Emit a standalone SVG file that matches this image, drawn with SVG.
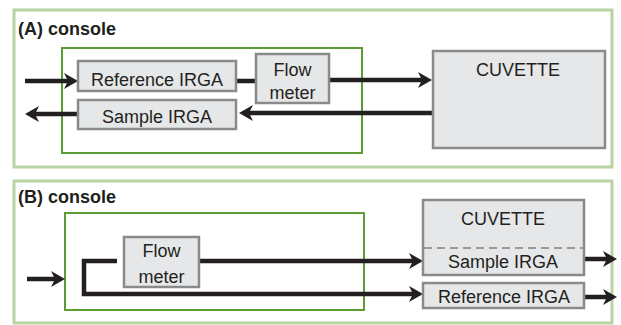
<svg xmlns="http://www.w3.org/2000/svg" width="621" height="325" viewBox="0 0 621 325">
<style>
.panel{fill:#fff;stroke:#b9d3a3;stroke-width:3}
.console{fill:none;stroke:#5c9d33;stroke-width:2}
.box{fill:#e6e7e8;stroke:#8a8a8a;stroke-width:2.5}
.t{font-family:"Liberation Sans",Arial,sans-serif;font-size:18px;fill:#231f20;text-anchor:middle}
.h{font-family:"Liberation Sans",Arial,sans-serif;font-size:18px;font-weight:bold;fill:#231f20}
.c{fill:none;stroke:#231f20;stroke-width:4.5}
.arr{marker-end:url(#ah)}
</style>
<defs>
<marker id="ah" viewBox="0 0 14 16" markerWidth="14" markerHeight="16" refX="6" refY="8" markerUnits="userSpaceOnUse" orient="auto">
<path d="M0,0 L14,8 L0,16 L4,8 Z" fill="#231f20"/>
</marker>
</defs>
<g id="panelA">
<rect class="panel" x="14" y="10" width="598" height="157"/>
<text class="h" x="18" y="35">(A) console</text>
</g>
<g id="panelB">
<rect class="panel" x="14" y="181" width="598" height="142"/>
<text class="h" x="18" y="203">(B) console</text>
</g>
<g id="consoleA"><rect class="console" x="62" y="48" width="300" height="105"/></g>
<g id="consoleB"><rect class="console" x="65" y="213" width="299" height="97"/></g>
<g id="connectors">
<line class="c arr" x1="25" y1="81" x2="70" y2="81"/>
<line class="c" x1="236" y1="81" x2="256" y2="81"/>
<line class="c arr" x1="329" y1="80" x2="424" y2="80"/>
<line class="c arr" x1="433" y1="113" x2="247" y2="113"/>
<line class="c arr" x1="78" y1="114" x2="33" y2="114"/>
<line class="c arr" x1="27" y1="279" x2="57" y2="279"/>
<path class="c arr" d="M117,261 H84 V294 H415"/>
<line class="c arr" x1="199" y1="261" x2="415" y2="261"/>
<line class="c arr" x1="584" y1="259" x2="609" y2="259"/>
<line class="c arr" x1="584" y1="297" x2="609" y2="297"/>
</g>
<g id="refIrgaA">
<rect class="box" x="78" y="61" width="158" height="30"/>
<text class="t" x="157" y="86">Reference IRGA</text>
</g>
<g id="flowMeterA">
<rect class="box" x="256" y="54" width="73" height="49"/>
<text class="t" x="292.5" y="76">Flow</text>
<text class="t" x="292.5" y="99">meter</text>
</g>
<g id="sampleIrgaA">
<rect class="box" x="78" y="100" width="158" height="29"/>
<text class="t" x="157" y="123">Sample IRGA</text>
</g>
<g id="cuvetteA">
<rect class="box" x="433" y="51" width="172" height="97"/>
<text class="t" x="518" y="76">CUVETTE</text>
</g>
<g id="flowMeterB">
<rect class="box" x="124" y="237" width="75" height="50"/>
<text class="t" x="161.5" y="257">Flow</text>
<text class="t" x="161.5" y="283">meter</text>
</g>
<g id="cuvetteB">
<rect class="box" x="423" y="200" width="161" height="75"/>
<line x1="424" y1="248" x2="583" y2="248" stroke="#9a9a9a" stroke-width="2" stroke-dasharray="8,5"/>
<text class="t" x="503" y="225">CUVETTE</text>
<text class="t" x="503" y="268">Sample IRGA</text>
</g>
<g id="refIrgaB">
<rect class="box" x="423" y="283" width="161" height="25"/>
<text class="t" x="504" y="303">Reference IRGA</text>
</g>
</svg>
